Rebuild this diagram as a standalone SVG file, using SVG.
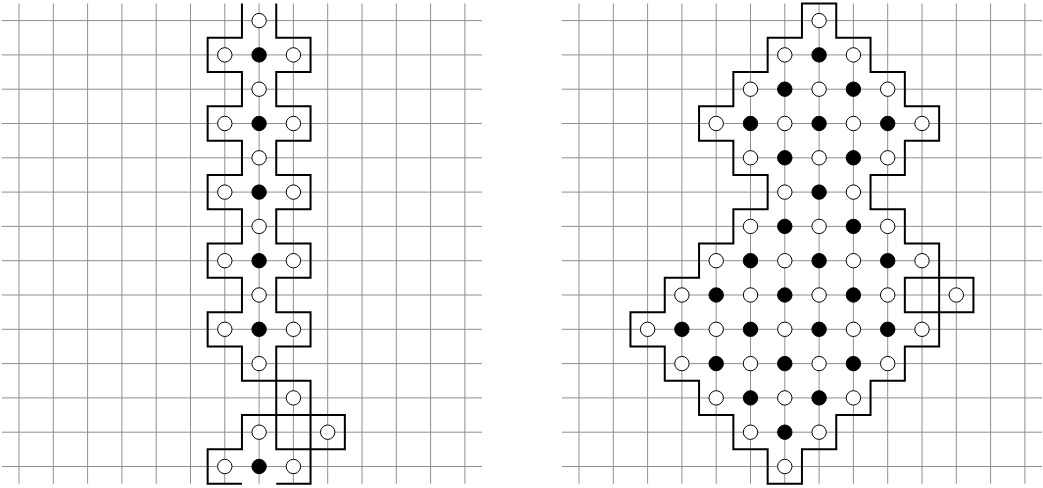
<svg xmlns="http://www.w3.org/2000/svg" width="1043" height="488" viewBox="0 0 1043 488">
<style>
.grid{fill:none;stroke:#8f8f8f;stroke-width:1;vector-effect:non-scaling-stroke}
.edge{fill:none;stroke:#000;stroke-width:2;stroke-linejoin:miter;vector-effect:non-scaling-stroke}
.w{fill:#fff;stroke:#000;stroke-width:1;vector-effect:non-scaling-stroke}
.b{fill:#000;stroke:#000;stroke-width:1;vector-effect:non-scaling-stroke}
</style>
<rect width="1043" height="488" fill="#fff"/>

<g id="left" transform="translate(19,20.6) scale(34.3)">
  <path class="grid" d="M0 -0.5V13.5M1 -0.5V13.5M2 -0.5V13.5M3 -0.5V13.5M4 -0.5V13.5M5 -0.5V13.5M6 -0.5V13.5M7 -0.5V13.5M8 -0.5V13.5M9 -0.5V13.5M10 -0.5V13.5M11 -0.5V13.5M12 -0.5V13.5M13 -0.5V13.5M-0.5 0H13.5M-0.5 1H13.5M-0.5 2H13.5M-0.5 3H13.5M-0.5 4H13.5M-0.5 5H13.5M-0.5 6H13.5M-0.5 7H13.5M-0.5 8H13.5M-0.5 9H13.5M-0.5 10H13.5M-0.5 11H13.5M-0.5 12H13.5M-0.5 13H13.5"/>
  <g id="left-connectors">
    <path class="edge" d="M6.5 -0.5V0.5H5.5V1.5H6.5V2.5H5.5V3.5H6.5V4.5H5.5V5.5H6.5V6.5H5.5V7.5H6.5V8.5H5.5V9.5H6.5V10.5H8.5V13.5H7.5"/>
    <path class="edge" d="M7.5 -0.5V0.5H8.5V1.5H7.5V2.5H8.5V3.5H7.5V4.5H8.5V5.5H7.5V6.5H8.5V7.5H7.5V8.5H8.5V9.5H7.5V12.5H9.5V11.5H6.5V12.5H5.5V13.5H6.5"/>
  </g>
  <g id="L7-0"><circle class="w" cx="7" cy="0" r="0.21"/></g>
  <g id="L6-1"><circle class="w" cx="6" cy="1" r="0.21"/></g>
  <g id="L7-1"><circle class="b" cx="7" cy="1" r="0.21"/></g>
  <g id="L8-1"><circle class="w" cx="8" cy="1" r="0.21"/></g>
  <g id="L7-2"><circle class="w" cx="7" cy="2" r="0.21"/></g>
  <g id="L6-3"><circle class="w" cx="6" cy="3" r="0.21"/></g>
  <g id="L7-3"><circle class="b" cx="7" cy="3" r="0.21"/></g>
  <g id="L8-3"><circle class="w" cx="8" cy="3" r="0.21"/></g>
  <g id="L7-4"><circle class="w" cx="7" cy="4" r="0.21"/></g>
  <g id="L6-5"><circle class="w" cx="6" cy="5" r="0.21"/></g>
  <g id="L7-5"><circle class="b" cx="7" cy="5" r="0.21"/></g>
  <g id="L8-5"><circle class="w" cx="8" cy="5" r="0.21"/></g>
  <g id="L7-6"><circle class="w" cx="7" cy="6" r="0.21"/></g>
  <g id="L6-7"><circle class="w" cx="6" cy="7" r="0.21"/></g>
  <g id="L7-7"><circle class="b" cx="7" cy="7" r="0.21"/></g>
  <g id="L8-7"><circle class="w" cx="8" cy="7" r="0.21"/></g>
  <g id="L7-8"><circle class="w" cx="7" cy="8" r="0.21"/></g>
  <g id="L6-9"><circle class="w" cx="6" cy="9" r="0.21"/></g>
  <g id="L7-9"><circle class="b" cx="7" cy="9" r="0.21"/></g>
  <g id="L8-9"><circle class="w" cx="8" cy="9" r="0.21"/></g>
  <g id="L7-10"><circle class="w" cx="7" cy="10" r="0.21"/></g>
  <g id="L8-11"><circle class="w" cx="8" cy="11" r="0.21"/></g>
  <g id="L7-12"><circle class="w" cx="7" cy="12" r="0.21"/></g>
  <g id="L9-12"><circle class="w" cx="9" cy="12" r="0.21"/></g>
  <g id="L6-13"><circle class="w" cx="6" cy="13" r="0.21"/></g>
  <g id="L7-13"><circle class="b" cx="7" cy="13" r="0.21"/></g>
  <g id="L8-13"><circle class="w" cx="8" cy="13" r="0.21"/></g>
</g>

<g id="right" transform="translate(579,20.6) scale(34.3)">
  <path class="grid" d="M0 -0.5V13.5M1 -0.5V13.5M2 -0.5V13.5M3 -0.5V13.5M4 -0.5V13.5M5 -0.5V13.5M6 -0.5V13.5M7 -0.5V13.5M8 -0.5V13.5M9 -0.5V13.5M10 -0.5V13.5M11 -0.5V13.5M12 -0.5V13.5M13 -0.5V13.5M-0.5 0H13.5M-0.5 1H13.5M-0.5 2H13.5M-0.5 3H13.5M-0.5 4H13.5M-0.5 5H13.5M-0.5 6H13.5M-0.5 7H13.5M-0.5 8H13.5M-0.5 9H13.5M-0.5 10H13.5M-0.5 11H13.5M-0.5 12H13.5M-0.5 13H13.5"/>
  <g id="right-connectors">
    <path class="edge" d="M6.5 -0.5H7.5V0.5H8.5V1.5H9.5V2.5H10.5V3.5H9.5V4.5H8.5V5.5H9.5V6.5H10.5V9.5H9.5V10.5H8.5V11.5H7.5V12.5H6.5V13.5H5.5V12.5H4.5V11.5H3.5V10.5H2.5V9.5H1.5V8.5H2.5V7.5H3.5V6.5H4.5V5.5H5.5V4.5H4.5V3.5H3.5V2.5H4.5V1.5H5.5V0.5H6.5Z"/>
    <path class="edge" d="M9.5 7.5H11.5V8.5H9.5Z"/>
  </g>
  <g id="R7-0"><circle class="w" cx="7" cy="0" r="0.21"/></g>
  <g id="R6-1"><circle class="w" cx="6" cy="1" r="0.21"/></g>
  <g id="R7-1"><circle class="b" cx="7" cy="1" r="0.21"/></g>
  <g id="R8-1"><circle class="w" cx="8" cy="1" r="0.21"/></g>
  <g id="R5-2"><circle class="w" cx="5" cy="2" r="0.21"/></g>
  <g id="R6-2"><circle class="b" cx="6" cy="2" r="0.21"/></g>
  <g id="R7-2"><circle class="w" cx="7" cy="2" r="0.21"/></g>
  <g id="R8-2"><circle class="b" cx="8" cy="2" r="0.21"/></g>
  <g id="R9-2"><circle class="w" cx="9" cy="2" r="0.21"/></g>
  <g id="R4-3"><circle class="w" cx="4" cy="3" r="0.21"/></g>
  <g id="R5-3"><circle class="b" cx="5" cy="3" r="0.21"/></g>
  <g id="R6-3"><circle class="w" cx="6" cy="3" r="0.21"/></g>
  <g id="R7-3"><circle class="b" cx="7" cy="3" r="0.21"/></g>
  <g id="R8-3"><circle class="w" cx="8" cy="3" r="0.21"/></g>
  <g id="R9-3"><circle class="b" cx="9" cy="3" r="0.21"/></g>
  <g id="R10-3"><circle class="w" cx="10" cy="3" r="0.21"/></g>
  <g id="R5-4"><circle class="w" cx="5" cy="4" r="0.21"/></g>
  <g id="R6-4"><circle class="b" cx="6" cy="4" r="0.21"/></g>
  <g id="R7-4"><circle class="w" cx="7" cy="4" r="0.21"/></g>
  <g id="R8-4"><circle class="b" cx="8" cy="4" r="0.21"/></g>
  <g id="R9-4"><circle class="w" cx="9" cy="4" r="0.21"/></g>
  <g id="R6-5"><circle class="w" cx="6" cy="5" r="0.21"/></g>
  <g id="R7-5"><circle class="b" cx="7" cy="5" r="0.21"/></g>
  <g id="R8-5"><circle class="w" cx="8" cy="5" r="0.21"/></g>
  <g id="R5-6"><circle class="w" cx="5" cy="6" r="0.21"/></g>
  <g id="R6-6"><circle class="b" cx="6" cy="6" r="0.21"/></g>
  <g id="R7-6"><circle class="w" cx="7" cy="6" r="0.21"/></g>
  <g id="R8-6"><circle class="b" cx="8" cy="6" r="0.21"/></g>
  <g id="R9-6"><circle class="w" cx="9" cy="6" r="0.21"/></g>
  <g id="R4-7"><circle class="w" cx="4" cy="7" r="0.21"/></g>
  <g id="R5-7"><circle class="b" cx="5" cy="7" r="0.21"/></g>
  <g id="R6-7"><circle class="w" cx="6" cy="7" r="0.21"/></g>
  <g id="R7-7"><circle class="b" cx="7" cy="7" r="0.21"/></g>
  <g id="R8-7"><circle class="w" cx="8" cy="7" r="0.21"/></g>
  <g id="R9-7"><circle class="b" cx="9" cy="7" r="0.21"/></g>
  <g id="R10-7"><circle class="w" cx="10" cy="7" r="0.21"/></g>
  <g id="R3-8"><circle class="w" cx="3" cy="8" r="0.21"/></g>
  <g id="R4-8"><circle class="b" cx="4" cy="8" r="0.21"/></g>
  <g id="R5-8"><circle class="w" cx="5" cy="8" r="0.21"/></g>
  <g id="R6-8"><circle class="b" cx="6" cy="8" r="0.21"/></g>
  <g id="R7-8"><circle class="w" cx="7" cy="8" r="0.21"/></g>
  <g id="R8-8"><circle class="b" cx="8" cy="8" r="0.21"/></g>
  <g id="R9-8"><circle class="w" cx="9" cy="8" r="0.21"/></g>
  <g id="R11-8"><circle class="w" cx="11" cy="8" r="0.21"/></g>
  <g id="R2-9"><circle class="w" cx="2" cy="9" r="0.21"/></g>
  <g id="R3-9"><circle class="b" cx="3" cy="9" r="0.21"/></g>
  <g id="R4-9"><circle class="w" cx="4" cy="9" r="0.21"/></g>
  <g id="R5-9"><circle class="b" cx="5" cy="9" r="0.21"/></g>
  <g id="R6-9"><circle class="w" cx="6" cy="9" r="0.21"/></g>
  <g id="R7-9"><circle class="b" cx="7" cy="9" r="0.21"/></g>
  <g id="R8-9"><circle class="w" cx="8" cy="9" r="0.21"/></g>
  <g id="R9-9"><circle class="b" cx="9" cy="9" r="0.21"/></g>
  <g id="R10-9"><circle class="w" cx="10" cy="9" r="0.21"/></g>
  <g id="R3-10"><circle class="w" cx="3" cy="10" r="0.21"/></g>
  <g id="R4-10"><circle class="b" cx="4" cy="10" r="0.21"/></g>
  <g id="R5-10"><circle class="w" cx="5" cy="10" r="0.21"/></g>
  <g id="R6-10"><circle class="b" cx="6" cy="10" r="0.21"/></g>
  <g id="R7-10"><circle class="w" cx="7" cy="10" r="0.21"/></g>
  <g id="R8-10"><circle class="b" cx="8" cy="10" r="0.21"/></g>
  <g id="R9-10"><circle class="w" cx="9" cy="10" r="0.21"/></g>
  <g id="R4-11"><circle class="w" cx="4" cy="11" r="0.21"/></g>
  <g id="R5-11"><circle class="b" cx="5" cy="11" r="0.21"/></g>
  <g id="R6-11"><circle class="w" cx="6" cy="11" r="0.21"/></g>
  <g id="R7-11"><circle class="b" cx="7" cy="11" r="0.21"/></g>
  <g id="R8-11"><circle class="w" cx="8" cy="11" r="0.21"/></g>
  <g id="R5-12"><circle class="w" cx="5" cy="12" r="0.21"/></g>
  <g id="R6-12"><circle class="b" cx="6" cy="12" r="0.21"/></g>
  <g id="R7-12"><circle class="w" cx="7" cy="12" r="0.21"/></g>
  <g id="R6-13"><circle class="w" cx="6" cy="13" r="0.21"/></g>
</g>
</svg>
